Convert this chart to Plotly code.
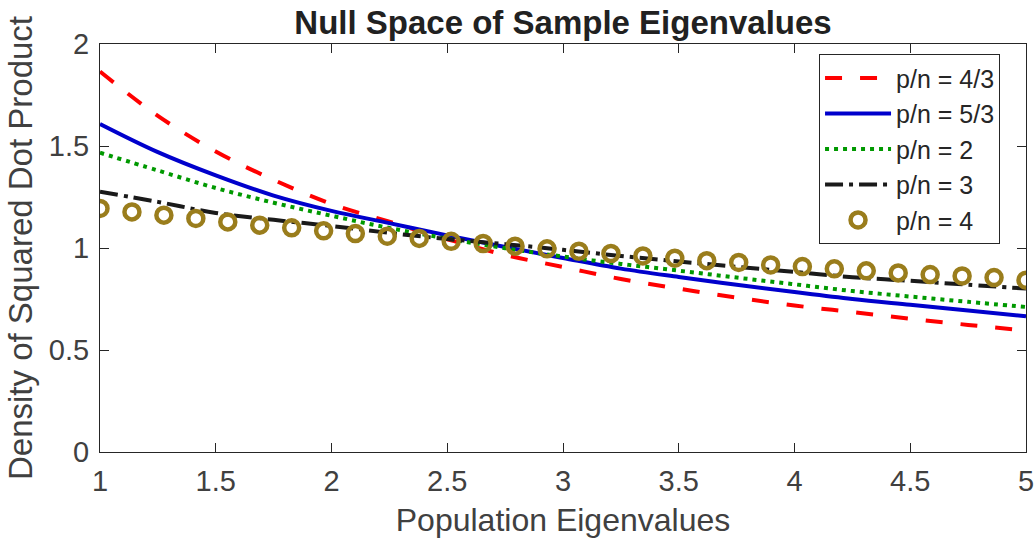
import plotly.graph_objects as go

# curves at x = 1, 1.25, ..., 5
x_line = [1.0, 1.25, 1.5, 1.75, 2.0, 2.25, 2.5, 2.75, 3.0,
          3.25, 3.5, 3.75, 4.0, 4.25, 4.5, 4.75, 5.0]
y_43 = [1.865, 1.648, 1.473, 1.334, 1.216, 1.129, 1.043, 0.966, 0.907,
        0.848, 0.801, 0.757, 0.718, 0.686, 0.653, 0.623, 0.595]
y_53 = [1.608, 1.470, 1.356, 1.257, 1.182, 1.122, 1.062, 1.005, 0.951,
        0.899, 0.858, 0.820, 0.784, 0.750, 0.722, 0.694, 0.665]
y_2 = [1.467, 1.380, 1.294, 1.222, 1.158, 1.098, 1.046, 0.999, 0.958,
       0.922, 0.889, 0.855, 0.822, 0.789, 0.762, 0.736, 0.711]
y_3 = [1.276, 1.226, 1.172, 1.138, 1.108, 1.074, 1.044, 1.019, 0.991,
       0.961, 0.934, 0.908, 0.883, 0.857, 0.839, 0.820, 0.801]

# circle markers (p/n = 4)
x_4 = [1.000, 1.138, 1.276, 1.414, 1.552, 1.690, 1.828, 1.966, 2.103, 2.241,
       2.379, 2.517, 2.655, 2.793, 2.931, 3.069, 3.207, 3.345, 3.483, 3.621,
       3.759, 3.897, 4.034, 4.172, 4.310, 4.448, 4.586, 4.724, 4.862, 5.000]
y_4 = [1.194, 1.177, 1.161, 1.145, 1.128, 1.112, 1.099, 1.084, 1.071, 1.058,
       1.047, 1.033, 1.022, 1.009, 0.996, 0.984, 0.973, 0.961, 0.950, 0.938,
       0.929, 0.917, 0.909, 0.898, 0.888, 0.878, 0.870, 0.863, 0.855, 0.842]

x_ticks = [1, 1.5, 2, 2.5, 3, 3.5, 4, 4.5, 5]
y_ticks = [0, 0.5, 1, 1.5, 2]

FONT = "Liberation Sans, Arial, Helvetica, sans-serif"
AX = "#262626"
TXT = "#404040"

fig = go.Figure()

lines = [
    ("p/n = 4/3", y_43, "#ff0000", "17px,18px"),
    ("p/n = 5/3", y_53, "#0000cc", "solid"),
    ("p/n = 2", y_2, "#009900", "4px,5px"),
    ("p/n = 3", y_3, "#1a1a1a", "18px,6px,4px,6px"),
]
for name, ys, col, dash in lines:
    fig.add_trace(go.Scatter(
        x=x_line, y=ys, name=name, mode="lines", legendgroup=name,
        line=dict(color=col, width=4, dash=dash, shape="spline", smoothing=1.0),
    ))

fig.add_trace(go.Scatter(
    x=x_4, y=y_4, name="p/n = 4", mode="markers", legendgroup="p/n = 4",
    marker=dict(symbol="circle-open", size=15, color="#9a7d1c",
                line=dict(width=4.5, color="#9a7d1c")),
))

axis_common = dict(
    showline=True, linecolor=AX, linewidth=1, mirror="ticks",
    ticks="inside", ticklen=9, tickcolor=AX, tickwidth=1,
    showgrid=False, zeroline=False, automargin=False,
    tickfont=dict(family=FONT, size=29, color=TXT),
)

fig.update_xaxes(
    range=[1, 5], tickvals=x_ticks, ticktext=[f"{t:g}" for t in x_ticks],
    title=dict(text="Population Eigenvalues", standoff=12,
               font=dict(family=FONT, size=32, color=TXT)),
    ticklabelstandoff=3,
    **axis_common,
)
fig.update_yaxes(
    range=[0, 2], tickvals=y_ticks, ticktext=[f"{t:g}" for t in y_ticks],
    title=dict(text="Density of Squared Dot Product", standoff=6,
               font=dict(family=FONT, size=33, color=TXT)),
    ticklabelstandoff=4,
    **axis_common,
)

fig.update_layout(
    width=1036, height=545,
    margin=dict(l=100, r=10, t=44, b=93),
    paper_bgcolor="white", plot_bgcolor="white",
    title=dict(text="<b>Null Space of Sample Eigenvalues</b>",
               x=0.5, xref="paper", xanchor="center",
               y=1 - 22 / 545, yref="container", yanchor="middle",
               font=dict(family=FONT, size=33, color="#212121")),
    legend=dict(
        x=0.7765, y=0.975, xanchor="left", yanchor="top",
        bgcolor="white", bordercolor=AX, borderwidth=1,
        font=dict(family=FONT, size=25, color="#262626"),
        itemwidth=66, tracegroupgap=0,
    ),
    showlegend=True,
)

fig.write_html("out.html", config={"displayModeBar": False},
               post_script="document.body.style.margin='0';document.body.style.padding='0';")
